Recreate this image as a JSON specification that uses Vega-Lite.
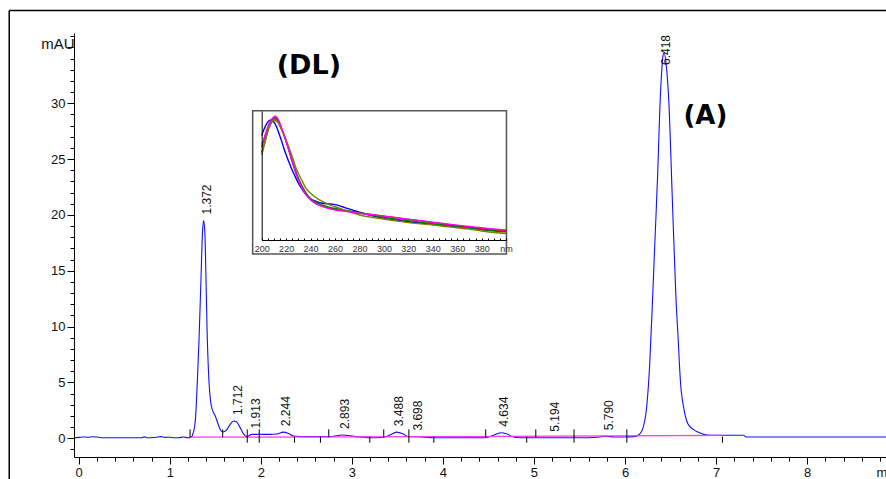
{
  "$schema": "https://vega.github.io/schema/vega-lite/v6.json",
  "width": 812,
  "height": 424,
  "autosize": {"type": "none"},
  "padding": {"left": 74, "top": 33, "right": 0, "bottom": 22},
  "background": "white",
  "config": {
    "view": {"stroke": null},
    "axis": {"grid": false, "labelFont": "Liberation Sans", "titleFont": "Liberation Sans", "domainColor": "#000", "tickColor": "#000", "labelColor": "#111", "titleColor": "#111", "titleFontWeight": "normal"}
  },
  "datasets": {
    "trace": [
      {"t": -0.05, "mAU": 0.05}, {"t": 0.0, "mAU": 0.08}, {"t": 0.05, "mAU": 0.12}, {"t": 0.1, "mAU": 0.1}, {"t": 0.15, "mAU": 0.14}, {"t": 0.2, "mAU": 0.12}, {"t": 0.25, "mAU": 0.05}, {"t": 0.5, "mAU": 0.05}, {"t": 0.69, "mAU": 0.05}, {"t": 0.72, "mAU": 0.13}, {"t": 0.75, "mAU": 0.05}, {"t": 0.85, "mAU": 0.1}, {"t": 0.9, "mAU": 0.15}, {"t": 0.95, "mAU": 0.08}, {"t": 1.0, "mAU": 0.1}, {"t": 1.05, "mAU": 0.05}, {"t": 1.1, "mAU": 0.05}, {"t": 1.15, "mAU": 0.12}, {"t": 1.2, "mAU": 0.05}, {"t": 1.23, "mAU": 0.08}, {"t": 1.25, "mAU": 0.3}, {"t": 1.28, "mAU": 1.5}, {"t": 1.3, "mAU": 4.5}, {"t": 1.32, "mAU": 8.5}, {"t": 1.34, "mAU": 13.5}, {"t": 1.36, "mAU": 18.5}, {"t": 1.372, "mAU": 19.5}, {"t": 1.385, "mAU": 18.5}, {"t": 1.4, "mAU": 13.5}, {"t": 1.41, "mAU": 9.7}, {"t": 1.43, "mAU": 5.2}, {"t": 1.45, "mAU": 3.2}, {"t": 1.47, "mAU": 2.5}, {"t": 1.5, "mAU": 2.0}, {"t": 1.53, "mAU": 1.3}, {"t": 1.56, "mAU": 0.7}, {"t": 1.585, "mAU": 0.56}, {"t": 1.62, "mAU": 0.7}, {"t": 1.66, "mAU": 1.2}, {"t": 1.7, "mAU": 1.55}, {"t": 1.73, "mAU": 1.5}, {"t": 1.77, "mAU": 1.0}, {"t": 1.81, "mAU": 0.4}, {"t": 1.85, "mAU": 0.15}, {"t": 1.9, "mAU": 0.35}, {"t": 2.0, "mAU": 0.35}, {"t": 2.1, "mAU": 0.35}, {"t": 2.18, "mAU": 0.38}, {"t": 2.244, "mAU": 0.55}, {"t": 2.3, "mAU": 0.45}, {"t": 2.36, "mAU": 0.2}, {"t": 2.5, "mAU": 0.15}, {"t": 2.65, "mAU": 0.15}, {"t": 2.75, "mAU": 0.15}, {"t": 2.85, "mAU": 0.25}, {"t": 2.9, "mAU": 0.3}, {"t": 2.95, "mAU": 0.25}, {"t": 3.05, "mAU": 0.15}, {"t": 3.2, "mAU": 0.05}, {"t": 3.35, "mAU": 0.1}, {"t": 3.42, "mAU": 0.3}, {"t": 3.49, "mAU": 0.55}, {"t": 3.56, "mAU": 0.4}, {"t": 3.62, "mAU": 0.15}, {"t": 3.7, "mAU": 0.15}, {"t": 3.8, "mAU": 0.1}, {"t": 3.9, "mAU": 0.05}, {"t": 4.47, "mAU": 0.05}, {"t": 4.55, "mAU": 0.25}, {"t": 4.634, "mAU": 0.5}, {"t": 4.7, "mAU": 0.4}, {"t": 4.78, "mAU": 0.1}, {"t": 4.92, "mAU": 0.05}, {"t": 5.5, "mAU": 0.05}, {"t": 5.7, "mAU": 0.1}, {"t": 5.79, "mAU": 0.18}, {"t": 5.88, "mAU": 0.12}, {"t": 6.0, "mAU": 0.12}, {"t": 6.1, "mAU": 0.15}, {"t": 6.15, "mAU": 0.3}, {"t": 6.2, "mAU": 1.0}, {"t": 6.24, "mAU": 3.0}, {"t": 6.27, "mAU": 6.5}, {"t": 6.3, "mAU": 12.0}, {"t": 6.33, "mAU": 18.0}, {"t": 6.36, "mAU": 24.0}, {"t": 6.38, "mAU": 29.0}, {"t": 6.4, "mAU": 32.5}, {"t": 6.418, "mAU": 34.3}, {"t": 6.43, "mAU": 34.5}, {"t": 6.45, "mAU": 33.6}, {"t": 6.48, "mAU": 30.3}, {"t": 6.52, "mAU": 21.3}, {"t": 6.56, "mAU": 12.4}, {"t": 6.58, "mAU": 9.4}, {"t": 6.61, "mAU": 4.9}, {"t": 6.65, "mAU": 2.5}, {"t": 6.69, "mAU": 1.3}, {"t": 6.75, "mAU": 0.8}, {"t": 6.8, "mAU": 0.56}, {"t": 6.9, "mAU": 0.3}, {"t": 7.0, "mAU": 0.27}, {"t": 7.3, "mAU": 0.27}, {"t": 7.33, "mAU": 0.12}, {"t": 8.87, "mAU": 0.12}
    ],
    "baseline": [
      {"t": 1.22, "mAU": 0.1}, {"t": 4.0, "mAU": 0.15}, {"t": 7.07, "mAU": 0.26}
    ],
    "markers": [
      {"t": 1.223, "kind": "up"}, {"t": 1.581, "kind": "up"}, {"t": 1.851, "kind": "both"}, {"t": 1.983, "kind": "both"}, {"t": 2.37, "kind": "down"}, {"t": 2.655, "kind": "down"}, {"t": 2.746, "kind": "up"}, {"t": 3.197, "kind": "down"}, {"t": 3.35, "kind": "up"}, {"t": 3.626, "kind": "both"}, {"t": 3.9, "kind": "down"}, {"t": 4.47, "kind": "up"}, {"t": 4.92, "kind": "down"}, {"t": 5.02, "kind": "up"}, {"t": 5.44, "kind": "both"}, {"t": 6.02, "kind": "both"}, {"t": 7.07, "kind": "down"}
    ],
    "peaks": [
      {"t": 1.372, "mAU": 19.5, "label": "1.372"}, {"t": 1.712, "mAU": 1.55, "label": "1.712"}, {"t": 1.913, "mAU": 0.35, "label": "1.913"}, {"t": 2.244, "mAU": 0.55, "label": "2.244"}, {"t": 2.893, "mAU": 0.3, "label": "2.893"}, {"t": 3.488, "mAU": 0.55, "label": "3.488"}, {"t": 3.698, "mAU": 0.15, "label": "3.698"}, {"t": 4.634, "mAU": 0.5, "label": "4.634"}, {"t": 5.194, "mAU": 0.05, "label": "5.194"}, {"t": 5.79, "mAU": 0.18, "label": "5.790"}, {"t": 6.418, "mAU": 34.5, "label": "6.418"}
    ],
    "spectra": [
      {"s": "s1", "nm": 200, "a": 81}, {"s": "s1", "nm": 202, "a": 86}, {"s": "s1", "nm": 204, "a": 90}, {"s": "s1", "nm": 206, "a": 92.5}, {"s": "s1", "nm": 208, "a": 93}, {"s": "s1", "nm": 210, "a": 91.5}, {"s": "s1", "nm": 212, "a": 88}, {"s": "s1", "nm": 214, "a": 83}, {"s": "s1", "nm": 216, "a": 77.5}, {"s": "s1", "nm": 218, "a": 71.5}, {"s": "s1", "nm": 220, "a": 66}, {"s": "s1", "nm": 222, "a": 61}, {"s": "s1", "nm": 225, "a": 54}, {"s": "s1", "nm": 228, "a": 48}, {"s": "s1", "nm": 230, "a": 44}, {"s": "s1", "nm": 233, "a": 39.5}, {"s": "s1", "nm": 236, "a": 35.5}, {"s": "s1", "nm": 240, "a": 32}, {"s": "s1", "nm": 245, "a": 29.8}, {"s": "s1", "nm": 250, "a": 28.5}, {"s": "s1", "nm": 255, "a": 28}, {"s": "s1", "nm": 258, "a": 27.8}, {"s": "s1", "nm": 262, "a": 27}, {"s": "s1", "nm": 266, "a": 25.8}, {"s": "s1", "nm": 270, "a": 24.5}, {"s": "s1", "nm": 275, "a": 23}, {"s": "s1", "nm": 280, "a": 21.5}, {"s": "s1", "nm": 290, "a": 19}, {"s": "s1", "nm": 300, "a": 16.8}, {"s": "s1", "nm": 310, "a": 15.5}, {"s": "s1", "nm": 320, "a": 14.2}, {"s": "s1", "nm": 330, "a": 13.2}, {"s": "s1", "nm": 340, "a": 12.2}, {"s": "s1", "nm": 350, "a": 11.2}, {"s": "s1", "nm": 360, "a": 10.3}, {"s": "s1", "nm": 370, "a": 9.4}, {"s": "s1", "nm": 380, "a": 8.5}, {"s": "s1", "nm": 390, "a": 7.5}, {"s": "s1", "nm": 400, "a": 6.8},
      {"s": "s2", "nm": 200, "a": 72}, {"s": "s2", "nm": 202, "a": 78}, {"s": "s2", "nm": 204, "a": 84}, {"s": "s2", "nm": 206, "a": 89}, {"s": "s2", "nm": 208, "a": 92.5}, {"s": "s2", "nm": 210, "a": 94.5}, {"s": "s2", "nm": 211, "a": 95}, {"s": "s2", "nm": 212, "a": 94.5}, {"s": "s2", "nm": 214, "a": 92}, {"s": "s2", "nm": 216, "a": 87}, {"s": "s2", "nm": 218, "a": 82}, {"s": "s2", "nm": 220, "a": 76.5}, {"s": "s2", "nm": 222, "a": 70.5}, {"s": "s2", "nm": 225, "a": 61}, {"s": "s2", "nm": 228, "a": 52.5}, {"s": "s2", "nm": 230, "a": 47}, {"s": "s2", "nm": 233, "a": 41}, {"s": "s2", "nm": 236, "a": 36.5}, {"s": "s2", "nm": 240, "a": 31.5}, {"s": "s2", "nm": 245, "a": 28}, {"s": "s2", "nm": 250, "a": 26}, {"s": "s2", "nm": 255, "a": 24.8}, {"s": "s2", "nm": 260, "a": 23.8}, {"s": "s2", "nm": 270, "a": 22.3}, {"s": "s2", "nm": 280, "a": 21}, {"s": "s2", "nm": 290, "a": 19.8}, {"s": "s2", "nm": 300, "a": 18.5}, {"s": "s2", "nm": 310, "a": 17.2}, {"s": "s2", "nm": 320, "a": 16}, {"s": "s2", "nm": 330, "a": 14.8}, {"s": "s2", "nm": 340, "a": 13.5}, {"s": "s2", "nm": 350, "a": 12.2}, {"s": "s2", "nm": 360, "a": 11}, {"s": "s2", "nm": 370, "a": 10}, {"s": "s2", "nm": 380, "a": 9}, {"s": "s2", "nm": 390, "a": 8}, {"s": "s2", "nm": 400, "a": 7.3},
      {"s": "s3", "nm": 200, "a": 68}, {"s": "s3", "nm": 202, "a": 74}, {"s": "s3", "nm": 204, "a": 81}, {"s": "s3", "nm": 206, "a": 87}, {"s": "s3", "nm": 208, "a": 91}, {"s": "s3", "nm": 210, "a": 93.5}, {"s": "s3", "nm": 211, "a": 94}, {"s": "s3", "nm": 212, "a": 93.5}, {"s": "s3", "nm": 214, "a": 91}, {"s": "s3", "nm": 216, "a": 86.5}, {"s": "s3", "nm": 218, "a": 82}, {"s": "s3", "nm": 220, "a": 77}, {"s": "s3", "nm": 222, "a": 71}, {"s": "s3", "nm": 225, "a": 62}, {"s": "s3", "nm": 228, "a": 53}, {"s": "s3", "nm": 230, "a": 48}, {"s": "s3", "nm": 233, "a": 42}, {"s": "s3", "nm": 236, "a": 37}, {"s": "s3", "nm": 240, "a": 32}, {"s": "s3", "nm": 245, "a": 29}, {"s": "s3", "nm": 250, "a": 27}, {"s": "s3", "nm": 255, "a": 25.5}, {"s": "s3", "nm": 260, "a": 24.5}, {"s": "s3", "nm": 270, "a": 22.8}, {"s": "s3", "nm": 280, "a": 21}, {"s": "s3", "nm": 290, "a": 19.3}, {"s": "s3", "nm": 300, "a": 17.5}, {"s": "s3", "nm": 310, "a": 16.2}, {"s": "s3", "nm": 320, "a": 15}, {"s": "s3", "nm": 330, "a": 13.8}, {"s": "s3", "nm": 340, "a": 12.5}, {"s": "s3", "nm": 350, "a": 11.5}, {"s": "s3", "nm": 360, "a": 10.5}, {"s": "s3", "nm": 370, "a": 9.2}, {"s": "s3", "nm": 380, "a": 8}, {"s": "s3", "nm": 390, "a": 7}, {"s": "s3", "nm": 400, "a": 6.3},
      {"s": "s4", "nm": 200, "a": 66}, {"s": "s4", "nm": 202, "a": 73}, {"s": "s4", "nm": 204, "a": 81}, {"s": "s4", "nm": 206, "a": 87.5}, {"s": "s4", "nm": 208, "a": 91.5}, {"s": "s4", "nm": 210, "a": 93}, {"s": "s4", "nm": 212, "a": 92}, {"s": "s4", "nm": 214, "a": 90}, {"s": "s4", "nm": 216, "a": 86}, {"s": "s4", "nm": 218, "a": 82}, {"s": "s4", "nm": 220, "a": 77.5}, {"s": "s4", "nm": 222, "a": 72.5}, {"s": "s4", "nm": 225, "a": 64.6}, {"s": "s4", "nm": 228, "a": 56}, {"s": "s4", "nm": 230, "a": 51.7}, {"s": "s4", "nm": 233, "a": 46}, {"s": "s4", "nm": 236, "a": 40.5}, {"s": "s4", "nm": 240, "a": 36.2}, {"s": "s4", "nm": 245, "a": 32.5}, {"s": "s4", "nm": 250, "a": 29.7}, {"s": "s4", "nm": 255, "a": 27.5}, {"s": "s4", "nm": 260, "a": 25.8}, {"s": "s4", "nm": 270, "a": 22.5}, {"s": "s4", "nm": 280, "a": 19.4}, {"s": "s4", "nm": 290, "a": 17.6}, {"s": "s4", "nm": 300, "a": 16.3}, {"s": "s4", "nm": 310, "a": 14.8}, {"s": "s4", "nm": 320, "a": 13.5}, {"s": "s4", "nm": 330, "a": 12.5}, {"s": "s4", "nm": 340, "a": 11.6}, {"s": "s4", "nm": 350, "a": 10.5}, {"s": "s4", "nm": 360, "a": 9.5}, {"s": "s4", "nm": 370, "a": 8.4}, {"s": "s4", "nm": 380, "a": 7}, {"s": "s4", "nm": 390, "a": 5.8}, {"s": "s4", "nm": 400, "a": 5},
      {"s": "s5", "nm": 200, "a": 74}, {"s": "s5", "nm": 202, "a": 79}, {"s": "s5", "nm": 204, "a": 85}, {"s": "s5", "nm": 206, "a": 90}, {"s": "s5", "nm": 208, "a": 93.5}, {"s": "s5", "nm": 210, "a": 95.5}, {"s": "s5", "nm": 211, "a": 96}, {"s": "s5", "nm": 212, "a": 95.5}, {"s": "s5", "nm": 214, "a": 92.5}, {"s": "s5", "nm": 216, "a": 87.5}, {"s": "s5", "nm": 218, "a": 82}, {"s": "s5", "nm": 220, "a": 76}, {"s": "s5", "nm": 222, "a": 70}, {"s": "s5", "nm": 225, "a": 60.5}, {"s": "s5", "nm": 228, "a": 51.5}, {"s": "s5", "nm": 230, "a": 46.5}, {"s": "s5", "nm": 233, "a": 40.5}, {"s": "s5", "nm": 236, "a": 35.5}, {"s": "s5", "nm": 240, "a": 31}, {"s": "s5", "nm": 245, "a": 27.8}, {"s": "s5", "nm": 250, "a": 25.8}, {"s": "s5", "nm": 255, "a": 24.3}, {"s": "s5", "nm": 260, "a": 23.3}, {"s": "s5", "nm": 270, "a": 22}, {"s": "s5", "nm": 280, "a": 20.7}, {"s": "s5", "nm": 290, "a": 19.6}, {"s": "s5", "nm": 300, "a": 18.5}, {"s": "s5", "nm": 310, "a": 17.3}, {"s": "s5", "nm": 320, "a": 16.2}, {"s": "s5", "nm": 330, "a": 15}, {"s": "s5", "nm": 340, "a": 13.8}, {"s": "s5", "nm": 350, "a": 12.6}, {"s": "s5", "nm": 360, "a": 11.5}, {"s": "s5", "nm": 370, "a": 10.5}, {"s": "s5", "nm": 380, "a": 9.5}, {"s": "s5", "nm": 390, "a": 8.5}, {"s": "s5", "nm": 400, "a": 7.8}
    ]
  },
  "resolve": {"scale": {"x": "independent", "y": "independent", "color": "independent"}, "axis": {"x": "independent", "y": "independent"}},
  "layer": [
    {
      "layer": [
        {
          "data": {"name": "trace"},
          "mark": {"type": "line", "color": "#1010ff", "strokeWidth": 1.1, "interpolate": "monotone"},
          "encoding": {
            "x": {"field": "t", "type": "quantitative",
              "scale": {"domain": [-0.0516, 8.866], "nice": false, "zero": false},
              "axis": {"orient": "bottom", "tickCount": 1000, "values": [0,0.2,0.4,0.6,0.8,1,1.2,1.4,1.6,1.8,2,2.2,2.4,2.6,2.8,3,3.2,3.4,3.6,3.8,4,4.2,4.4,4.6,4.8,5,5.2,5.4,5.6,5.8,6,6.2,6.4,6.6,6.8,7,7.2,7.4,7.6,7.8,8,8.2,8.4,8.6,8.8],
                "labelExpr": "datum.value % 1 === 0 ? '' + datum.value : ''",
                "tickSize": {"condition": {"test": "datum.value % 1 === 0", "value": 7}, "value": 4},
                "labelFontSize": 13, "labelPadding": 2, "labelOverlap": false, "labelFlush": false, "labelBound": false,
                "title": "min", "titleX": 802, "titleY": 9, "titleAlign": "left", "titleBaseline": "top", "titleFontSize": 13, "titleAnchor": "start"}},
            "y": {"field": "mAU", "type": "quantitative",
              "scale": {"domain": [-1.675, 36.29], "nice": false, "zero": false},
              "axis": {"orient": "left", "tickCount": 1000, "values": [-1,0,1,2,3,4,5,6,7,8,9,10,11,12,13,14,15,16,17,18,19,20,21,22,23,24,25,26,27,28,29,30,31,32,33,34,35,36],
                "labelExpr": "(datum.value % 5 === 0 && datum.value >= 0 && datum.value <= 30) ? '' + datum.value : ''",
                "tickSize": {"condition": {"test": "datum.value % 5 === 0", "value": 7}, "value": 4},
                "labelFontSize": 13, "labelPadding": 2, "labelOverlap": false, "labelBound": false,
                "title": "mAU", "titleAngle": 0, "titleX": 0, "titleY": 10, "titleAlign": "right", "titleBaseline": "middle", "titleFontSize": 15, "titleAnchor": "end"}}
          }
        },
        {
          "data": {"name": "baseline"},
          "mark": {"type": "line", "color": "#ff33ff", "strokeWidth": 1.3},
          "encoding": {"x": {"field": "t", "type": "quantitative"}, "y": {"field": "mAU", "type": "quantitative"}}
        },
        {
          "data": {"name": "markers"},
          "transform": [{"filter": "datum.kind != 'down'"}],
          "mark": {"type": "rule", "color": "#000", "strokeWidth": 1},
          "encoding": {"x": {"field": "t", "type": "quantitative"}, "y": {"datum": 0.1}, "y2": {"datum": 0.8}}
        },
        {
          "data": {"name": "markers"},
          "transform": [{"filter": "datum.kind != 'up'"}],
          "mark": {"type": "rule", "color": "#000", "strokeWidth": 1},
          "encoding": {"x": {"field": "t", "type": "quantitative"}, "y": {"datum": -0.4}, "y2": {"datum": 0.15}}
        },
        {
          "data": {"name": "peaks"},
          "transform": [{"filter": "datum.t < 6"}],
          "mark": {"type": "text", "angle": 270, "align": "left", "baseline": "middle", "dx": 6, "dy": 3, "font": "Liberation Sans", "fontSize": 12, "color": "#111"},
          "encoding": {"x": {"field": "t", "type": "quantitative"}, "y": {"field": "mAU", "type": "quantitative"}, "text": {"field": "label"}}
        },
        {
          "data": {"name": "peaks"},
          "transform": [{"filter": "datum.t > 6"}],
          "mark": {"type": "text", "angle": 270, "align": "left", "baseline": "middle", "dx": -12, "dy": 3, "font": "Liberation Sans", "fontSize": 12, "color": "#111"},
          "encoding": {"x": {"field": "t", "type": "quantitative"}, "y": {"field": "mAU", "type": "quantitative"}, "text": {"field": "label"}}
        },
        {
          "data": {"values": [{}]},
          "mark": {"type": "text", "font": "DejaVu Sans", "fontWeight": "bold", "fontSize": 27, "align": "center", "baseline": "alphabetic", "color": "#000"},
          "encoding": {"x": {"datum": 2.528, "type": "quantitative"}, "y": {"datum": 32.6, "type": "quantitative"}, "text": {"value": "(DL)"}}
        },
        {
          "data": {"values": [{}]},
          "mark": {"type": "text", "font": "DejaVu Sans", "fontWeight": "bold", "fontSize": 26, "align": "center", "baseline": "alphabetic", "color": "#000"},
          "encoding": {"x": {"datum": 6.882, "type": "quantitative"}, "y": {"datum": 28.15, "type": "quantitative"}, "text": {"value": "(A)"}}
        },
        {
          "data": {"values": [{}]},
          "mark": {"type": "rule", "color": "#000", "strokeWidth": 1.5},
          "encoding": {"x": {"datum": -0.763, "type": "quantitative"}, "y": {"datum": -5, "type": "quantitative"}, "y2": {"datum": 38.3}}
        },
        {
          "data": {"values": [{}]},
          "mark": {"type": "rule", "color": "#000", "strokeWidth": 1.5},
          "encoding": {"x": {"datum": -0.763, "type": "quantitative"}, "x2": {"datum": 10}, "y": {"datum": 38.3, "type": "quantitative"}}
        }
      ]
    },
    {
      "layer": [
        {
          "data": {"values": [{}]},
          "mark": {"type": "rect", "fill": "white", "stroke": "#555", "strokeWidth": 1.5},
          "encoding": {
            "x": {"datum": 192.6, "type": "quantitative",
              "scale": {"domain": [200, 400], "range": [187.7, 432.1], "nice": false, "zero": false},
              "axis": {"orient": "bottom", "offset": -217, "zindex": 2, "tickCount": 1000, "values": [200,205,210,215,220,225,230,235,240,245,250,255,260,265,270,275,280,285,290,295,300,305,310,315,320,325,330,335,340,345,350,355,360,365,370,375,380,385,390,395,400],
                "labelExpr": "datum.value == 400 ? 'nm' : (datum.value % 20 === 0 ? '' + datum.value : '')",
                "tickSize": -2, "labelPadding": 6, "labelFontSize": 9, "labelColor": "#333", "labelOverlap": false, "labelBound": false, "labelFlush": false, "title": null}},
            "x2": {"datum": 400.3},
            "y": {"datum": -10.85, "type": "quantitative",
              "scale": {"domain": [0, 100], "range": [207, 78], "nice": false, "zero": false},
              "axis": {"orient": "left", "offset": -187.7, "zindex": 2, "ticks": false, "labels": false, "title": null}},
            "y2": {"datum": 100.2}
          }
        },
        {
          "data": {"name": "spectra"},
          "mark": {"type": "line", "strokeWidth": 1.4, "interpolate": "monotone"},
          "encoding": {
            "x": {"field": "nm", "type": "quantitative"},
            "y": {"field": "a", "type": "quantitative"},
            "color": {"field": "s", "type": "nominal", "scale": {"domain": ["s1", "s2", "s3", "s4", "s5"], "range": ["#0000ff", "#ff0000", "#008000", "#808000", "#ff00ff"]}, "legend": null}
          }
        }
      ]
    }
  ]
}
